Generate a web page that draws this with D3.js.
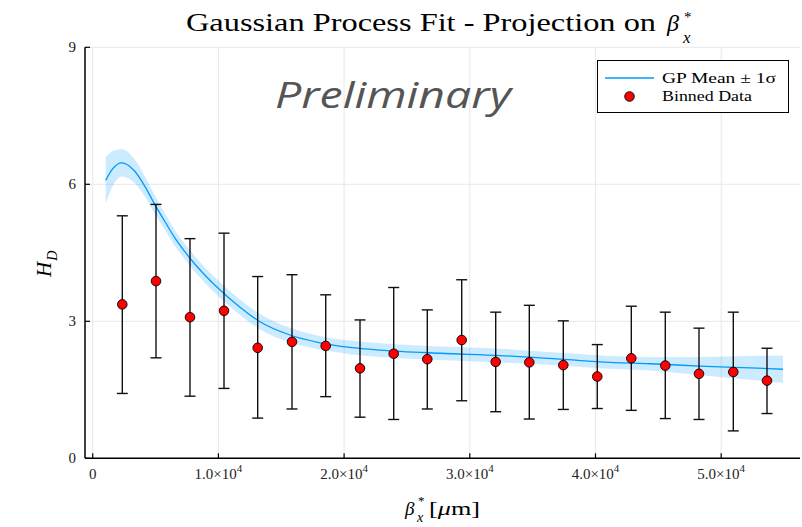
<!DOCTYPE html>
<html>
<head>
<meta charset="utf-8">
<script src="https://cdn.jsdelivr.net/npm/d3@7"></script>
<style>
  body { margin: 0; background: #fff; }
  text { font-family: "Liberation Serif", "DejaVu Serif", serif; }
</style>
</head>
<body>
<div id="chart"></div>
<script>
// binned data
var binX  = [2355, 5036, 7740, 10446, 13126, 15855, 18536, 21265, 23946, 26619, 29356, 32061, 34734, 37439, 40143, 42848, 45553, 48234, 50963, 53644];
var binY  = [3.37, 3.88, 3.09, 3.23, 2.42, 2.55, 2.46, 1.97, 2.29, 2.17, 2.59, 2.11, 2.10, 2.04, 1.79, 2.19, 2.03, 1.85, 1.89, 1.70];
var binLo = [1.42, 2.20, 1.36, 1.53, 0.88, 1.08, 1.35, 0.90, 0.85, 1.08, 1.26, 1.02, 0.86, 1.07, 1.09, 1.05, 0.87, 0.85, 0.60, 0.98];
var binHi = [5.31, 5.56, 4.81, 4.93, 3.98, 4.02, 3.58, 3.03, 3.74, 3.25, 3.91, 3.20, 3.35, 3.01, 2.49, 3.33, 3.20, 2.85, 3.20, 2.41];

// GP mean and sigma
var gpX     = [1034, 1615, 2307, 3365, 4161, 4956, 5752, 6548, 7343, 8139, 8934, 9730, 11719, 13309, 15696, 18083, 20469, 22856, 27629, 32403, 37176, 41154, 44336, 48314, 52291, 54917];
var gpMean  = [6.09, 6.35, 6.47, 6.28, 5.95, 5.55, 5.18, 4.82, 4.52, 4.25, 4.01, 3.79, 3.31, 2.99, 2.70, 2.53, 2.43, 2.37, 2.30, 2.25, 2.17, 2.10, 2.07, 2.02, 1.98, 1.95];
var gpSigma = [0.51, 0.38, 0.30, 0.26, 0.22, 0.20, 0.18, 0.17, 0.17, 0.17, 0.17, 0.17, 0.17, 0.17, 0.16, 0.15, 0.15, 0.15, 0.15, 0.15, 0.14, 0.14, 0.15, 0.20, 0.26, 0.30];

var xTicks = [0, 10000, 20000, 30000, 40000, 50000];
var xTickMant = ["0", "1.0", "2.0", "3.0", "4.0", "5.0"];
var yTicks = [0, 3, 6, 9];

var width = 802, height = 527;
var pLeft = 85, pRight = 800, pTop = 47.3, pBottom = 458.3;
var blue = "#009afa";

var svg = d3.select("#chart").append("svg").attr("width", width).attr("height", height);

var x = d3.scaleLinear().domain([-613, 56270]).range([pLeft, pRight]);
var y = d3.scaleLinear().domain([0, 9]).range([pBottom, pTop]);

// grid
svg.append("g").selectAll("line").data(xTicks).enter().append("line")
    .attr("x1", function(d) { return x(d); }).attr("x2", function(d) { return x(d); })
    .attr("y1", pTop).attr("y2", pBottom)
    .attr("stroke", "#e8e8e8").attr("stroke-width", 1);
svg.append("g").selectAll("line").data(yTicks).enter().append("line")
    .attr("x1", pLeft).attr("x2", pRight)
    .attr("y1", function(d) { return y(d); }).attr("y2", function(d) { return y(d); })
    .attr("stroke", "#e8e8e8").attr("stroke-width", 1);

// GP band + mean
var gp = gpX.map(function(d, i) { return {x: d, m: gpMean[i], s: gpSigma[i]}; });
var band = d3.area().curve(d3.curveMonotoneX)
    .x(function(d) { return x(d.x); })
    .y0(function(d) { return y(d.m - d.s); })
    .y1(function(d) { return y(d.m + d.s); });
svg.append("path").datum(gp).attr("d", band).attr("fill", blue).attr("fill-opacity", 0.2);
var line = d3.line().curve(d3.curveMonotoneX)
    .x(function(d) { return x(d.x); })
    .y(function(d) { return y(d.m); });
svg.append("path").datum(gp).attr("d", line).attr("fill", "none").attr("stroke", blue).attr("stroke-width", 1.3);

// error bars
var bins = binX.map(function(d, i) { return {x: d, y: binY[i], lo: binLo[i], hi: binHi[i]}; });
var eb = svg.append("g").attr("stroke", "#111").attr("stroke-width", 1.4);
bins.forEach(function(d) {
    var cx = x(d.x);
    eb.append("line").attr("x1", cx).attr("x2", cx).attr("y1", y(d.lo)).attr("y2", y(d.hi));
    eb.append("line").attr("x1", cx - 5.5).attr("x2", cx + 5.5).attr("y1", y(d.lo)).attr("y2", y(d.lo));
    eb.append("line").attr("x1", cx - 5.5).attr("x2", cx + 5.5).attr("y1", y(d.hi)).attr("y2", y(d.hi));
});
svg.append("g").selectAll("circle").data(bins).enter().append("circle")
    .attr("cx", function(d) { return x(d.x); })
    .attr("cy", function(d) { return y(d.y); })
    .attr("r", 4.8)
    .attr("fill", "#ff0000").attr("stroke", "#000").attr("stroke-width", 0.9);

// axes (spines + inward ticks)
var ax = svg.append("g").attr("stroke", "#000");
ax.append("line").attr("x1", pLeft).attr("x2", pRight).attr("y1", pBottom).attr("y2", pBottom).attr("stroke-width", 1.5);
ax.append("line").attr("x1", pLeft).attr("x2", pLeft).attr("y1", pTop).attr("y2", pBottom).attr("stroke-width", 1.5);
xTicks.forEach(function(d) {
    ax.append("line").attr("x1", x(d)).attr("x2", x(d)).attr("y1", pBottom).attr("y2", pBottom - 5).attr("stroke-width", 1.2);
});
yTicks.forEach(function(d) {
    ax.append("line").attr("x1", pLeft).attr("x2", pLeft + 5).attr("y1", y(d)).attr("y2", y(d)).attr("stroke-width", 1.2);
});

// tick labels
svg.append("g").selectAll("text").data(yTicks).enter().append("text")
    .attr("x", 76).attr("y", function(d) { return y(d) + 5; })
    .attr("text-anchor", "end").attr("font-size", 15).attr("fill", "#222")
    .text(function(d) { return d; });

xTicks.forEach(function(d, i) {
    var t = svg.append("text").attr("x", x(d)).attr("y", 479)
        .attr("text-anchor", "middle").attr("font-size", 15).attr("fill", "#222");
    if (d === 0) { t.text("0"); return; }
    t.append("tspan").text(xTickMant[i] + "\u00d710");
    t.append("tspan").attr("dy", -7).attr("font-size", 11).text("4");
});

// title
svg.append("text").attr("x", 186).attr("y", 31).attr("font-size", 25)
    .attr("textLength", 470).attr("lengthAdjust", "spacingAndGlyphs")
    .text("Gaussian Process Fit - Projection on");
svg.append("text").attr("x", 667).attr("y", 31).attr("font-size", 24).attr("font-style", "italic").text("\u03b2");
svg.append("text").attr("x", 684).attr("y", 22).attr("font-size", 15).text("*");
svg.append("text").attr("x", 683).attr("y", 43).attr("font-size", 17).attr("font-style", "italic").text("x");

// x axis label
svg.append("text").attr("x", 405).attr("y", 515).attr("font-size", 19).attr("font-style", "italic").text("\u03b2");
svg.append("text").attr("x", 418).attr("y", 505).attr("font-size", 13).text("*");
svg.append("text").attr("x", 417).attr("y", 522).attr("font-size", 14).attr("font-style", "italic").text("x");
var xl = svg.append("text").attr("x", 429).attr("y", 515).attr("font-size", 19)
    .attr("textLength", 51).attr("lengthAdjust", "spacingAndGlyphs");
xl.append("tspan").text("[");
xl.append("tspan").attr("font-style", "italic").text("\u03bc");
xl.append("tspan").text("m]");

// y axis label
var yl = svg.append("text").attr("transform", "translate(51,277) rotate(-90)").attr("font-size", 21).attr("font-style", "italic");
yl.append("tspan").text("H");
yl.append("tspan").attr("dy", 6).attr("dx", 1).attr("font-size", 14).text("D");

// watermark
svg.append("text").attr("x", 275).attr("y", 108)
    .attr("font-style", "italic").attr("font-size", 36)
    .attr("textLength", 236).attr("lengthAdjust", "spacingAndGlyphs")
    .attr("fill", "#555").text("Preliminary")
    .style("font-family", "'Open Sans', sans-serif");

// legend
var lg = svg.append("g");
lg.append("rect").attr("x", 597.5).attr("y", 60.5).attr("width", 191).attr("height", 52)
    .attr("fill", "#fff").attr("stroke", "#000").attr("stroke-width", 1);
lg.append("line").attr("x1", 605).attr("x2", 654).attr("y1", 78).attr("y2", 78).attr("stroke", blue).attr("stroke-width", 1.3);
lg.append("text").attr("x", 662).attr("y", 83).attr("font-size", 15)
    .attr("textLength", 114).attr("lengthAdjust", "spacingAndGlyphs").text("GP Mean \u00b1 1\u03c3");
lg.append("circle").attr("cx", 629.5).attr("cy", 96.5).attr("r", 4.8).attr("fill", "#ff0000").attr("stroke", "#000").attr("stroke-width", 0.9);
lg.append("text").attr("x", 662).attr("y", 101).attr("font-size", 15)
    .attr("textLength", 90).attr("lengthAdjust", "spacingAndGlyphs").text("Binned Data");
</script>
</body>
</html>
